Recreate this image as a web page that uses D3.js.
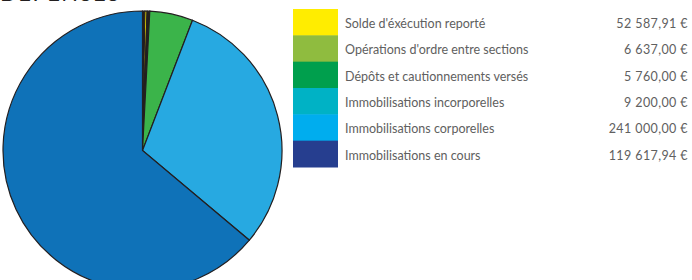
<!DOCTYPE html>
<html lang="fr">
<head>
    <meta charset="UTF-8">
    <title>Dépenses</title>
    <script src="https://d3js.org/d3.v7.min.js"></script>
    <style>
        body { margin: 0; background: #fff; }
        svg { display: block; }
    </style>
</head>
<body>
    <svg width="692" height="280"></svg>
    <script>
        // légende
        const labels = [
            "Solde d'éxécution reporté",
            "Opérations d'ordre entre sections",
            "Dépôts et cautionnements versés",
            "Immobilisations incorporelles",
            "Immobilisations corporelles",
            "Immobilisations en cours"
        ];
        const amounts = [52587.91, 6637.00, 5760.00, 9200.00, 241000.00, 119617.94];
        const legendColors = ["#ffed00", "#8fbc3f", "#009f4d", "#00b2c5", "#00adee", "#263e8f"];

        // parts du camembert telles que dessinées (degrés)
        const pieShares = [1.0, 0.9, 1.1, 18.0, 109.0, 230.0];
        const pieColors = ["#231f20", "#fff200", "#231f20", "#3bb44a", "#27a9e1", "#0f72b8"];

        const svg = d3.select("svg");
        const font = "Lato, 'Open Sans', sans-serif";

        // titre (coupé en haut)
        svg.append("text")
            .attr("x", 0)
            .attr("y", 1)
            .attr("font-family", font)
            .attr("font-size", 22)
            .attr("letter-spacing", 1.5)
            .attr("fill", "#231f20")
            .text("DÉPENSES");

        // camembert
        const pie = d3.pie().sort(null).value(d => d)(pieShares);
        const arc = d3.arc().innerRadius(0).outerRadius(139.5);

        const g = svg.append("g").attr("transform", "translate(142.5,150.5)");
        g.selectAll("path")
            .data(pie)
            .join("path")
            .attr("d", arc)
            .attr("fill", (d, i) => pieColors[i])
            .attr("stroke", "#231f20")
            .attr("stroke-width", 1.2);

        // légende à droite
        const fr = d3.formatLocale({ decimal: ",", thousands: "\u00a0", grouping: [3], currency: ["", " €"] });
        const fmt = fr.format(",.2f");

        const y = d3.scaleBand().domain(d3.range(labels.length)).range([9, 167]).padding(0);

        const rows = svg.append("g").selectAll("g")
            .data(labels)
            .join("g")
            .attr("transform", (d, i) => `translate(0,${y(i)})`);

        rows.append("rect")
            .attr("x", 293)
            .attr("width", 45)
            .attr("height", y.bandwidth() + 0.5)
            .attr("fill", (d, i) => legendColors[i]);

        rows.append("text")
            .attr("x", 345)
            .attr("y", 19)
            .attr("font-family", font)
            .attr("font-size", 12.5)
            .attr("fill", "#606060")
            .text(d => d);

        rows.append("text")
            .attr("x", 688)
            .attr("y", 19)
            .attr("text-anchor", "end")
            .attr("font-family", font)
            .attr("font-size", 12.5)
            .attr("letter-spacing", 0.4)
            .attr("fill", "#606060")
            .text((d, i) => fmt(amounts[i]) + " €");
    </script>
</body>
</html>
